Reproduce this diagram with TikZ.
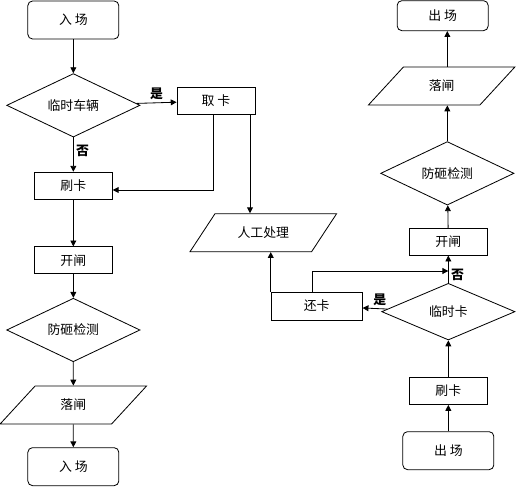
\documentclass[tikz,border=0pt]{standalone}
\usepackage{fontspec}
\usepackage{tikz}
\usepackage{xcolor}
\usetikzlibrary{positioning, arrows.meta}
\usetikzlibrary{shapes.geometric}
\newfontfamily\cjk{Noto Sans CJK SC}
\newcommand{\txt}{\cjk\fontsize{11}{13}\selectfont}
\tikzstyle{box}=[rectangle, draw, text centered,
minimum width=2.34cm,
minimum height=0.81cm,
font=\txt]
\tikzstyle{rbox}=[rectangle, draw, rounded corners=4pt,
minimum width=2.73cm,
minimum height=1.14cm,
font=\txt]
\tikzstyle{dia}=[diamond, draw, inner sep=0pt,
minimum width=4cm,
minimum height=1.7cm,
font=\txt]
\tikzstyle{para}=[trapezium, draw, trapezium left angle=52, trapezium right angle=128,
trapezium stretches=true,
minimum width=4.4cm,
minimum height=1.14cm,
font=\txt]
\tikzstyle{lab}=[font=\txt\bfseries, inner sep=2pt]
\tikzstyle{arr}=[-{Triangle[width=5pt,length=5pt]}]

\begin{document}
\begin{tikzpicture}[line width=0.7pt]
\useasboundingbox (0,0) rectangle (15.81,-14.82);

% entry side
\node [style=rbox] (in1) at (2.2, -0.6) {入 场};
\node [style=dia] (car) at (2.2, -3.16) {临时车辆};
\node [style=box] (take) at (6.48, -3.03) {取 卡};
\node [style=box] (swipeL) at (2.2, -5.57) {刷卡};
\node [style=box] (openL) at (2.2, -7.81) {开闸};
\node [style=dia] (checkL) at (2.2, -9.9) {防砸检测};
\node [style=para] (dropL) at (2.2, -12.15) {落闸};
\node [style=rbox] (in2) at (2.2, -14.0) {入 场};

% manual handling
\node [style=para] (manual) at (7.9, -6.98) {人工处理};
\node [style=box, minimum width=2.73cm, minimum height=0.84cm] (back) at (9.5, -9.18) {还卡};

% exit side
\node [style=rbox, minimum height=0.9cm] (out1) at (13.28, -0.47) {出 场};
\node [style=para] (dropR) at (13.25, -2.58) {落闸};
\node [style=dia] (checkR) at (13.42, -5.2) {防砸检测};
\node [style=box] (openR) at (13.45, -7.25) {开闸};
\node [style=dia] (tmpcard) at (13.45, -9.35) {临时卡};
\node [style=box] (swipeR) at (13.45, -11.73) {刷卡};
\node [style=rbox] (out2) at (13.45, -13.52) {出 场};
\coordinate (join) at (13.45, -8.13);

\draw [arr] (in1) -- (car);
\draw [arr] (car) -- node [lab, above] {是} (take);
\draw [arr] (car) -- node [lab, right, pos=0.38] {否} (swipeL);
\draw [arr] ([xshift=-0.09cm]take.south) |- ([yshift=-0.13cm]swipeL.east);
\draw [arr] ([xshift=1.02cm]take.south) -- ([xshift=1.02cm]take.south |- manual.north);
\draw [arr] (swipeL) -- (openL);
\draw [arr] (openL) -- (checkL);
\draw [arr] (checkL) -- (dropL);
\draw [arr] (dropL) -- (in2);

\draw [arr] (out2) -- (swipeR);
\draw [arr] (swipeR) -- (tmpcard);
\draw [arr] (tmpcard) -- node [lab, right, pos=0.3] {否} (openR);
\draw [arr] (openR) -- (checkR);
\draw [arr] (checkR.north) -- (checkR.north |- dropR.south);
\draw [arr] (checkR.north |- dropR.north) -- (checkR.north |- out1.south);
\draw [arr] (tmpcard) -- node [lab, above, pos=0.3] {是} (back);
\draw [arr] ([xshift=-0.14cm]back.north) |- (join);
\draw [arr] (back.north west) -- (back.north west |- manual.south);

\end{tikzpicture}
\end{document}
